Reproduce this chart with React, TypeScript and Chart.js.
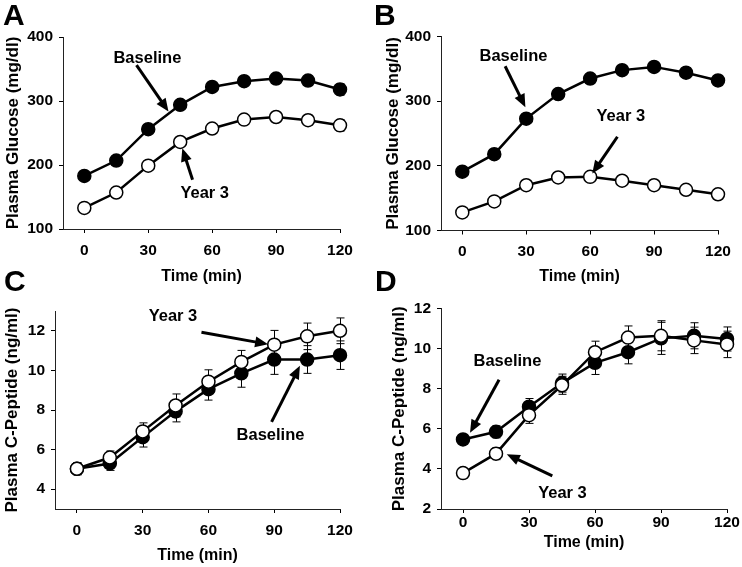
import React, { useEffect, useRef } from 'react';
import { Chart, registerables } from 'chart.js';

Chart.register(...registerables);

const W = 742;
const H = 567;
const FONT = '"Liberation Sans", Arial, Helvetica, sans-serif';

// ---------- data ----------
const TIME_MIN = [0, 15, 30, 45, 60, 75, 90, 105, 120];
const X_TICKS = [0, 30, 60, 90, 120];
const GLUCOSE_TICKS = [100, 200, 300, 400];
const CPEP_C_TICKS = [4, 6, 8, 10, 12];
const CPEP_D_TICKS = [2, 4, 6, 8, 10, 12];

// Panel A: plasma glucose
const A_BASELINE = [183, 207, 256, 294, 322, 331, 335, 332, 318];
const A_BASELINE_ERR = [5, 6, 7, 7, 7, 7, 7, 8, 9];
const A_YEAR3 = [133, 157, 199, 236, 257, 271, 275, 270, 262];
const A_YEAR3_ERR = [4, 5, 6, 6, 6, 6, 7, 8, 9];

// Panel B: plasma glucose
const B_BASELINE = [191, 218, 273, 311, 335, 348, 353, 344, 332];
const B_BASELINE_ERR = [5, 6, 7, 7, 7, 7, 7, 8, 8];
const B_YEAR3 = [128, 145, 170, 182, 183, 177, 170, 163, 156];
const B_YEAR3_ERR = [4, 5, 5, 5, 5, 5, 5, 6, 7];

// Panel C: plasma C-peptide
const C_BASELINE = [5.03, 5.3, 6.63, 7.93, 9.05, 9.85, 10.55, 10.55, 10.77];
const C_BASELINE_ERR = [0.3, 0.35, 0.5, 0.53, 0.55, 0.7, 0.75, 0.7, 0.72];
const C_YEAR3 = [5.03, 5.6, 6.92, 8.23, 9.43, 10.43, 11.3, 11.72, 12.0];
const C_YEAR3_ERR = [0.3, 0.33, 0.43, 0.58, 0.6, 0.58, 0.72, 0.67, 0.65];

// Panel D: plasma C-peptide
const D_BASELINE = [5.47, 5.85, 7.1, 8.28, 9.29, 9.82, 10.51, 10.64, 10.48];
const D_BASELINE_ERR = [0.25, 0.3, 0.41, 0.45, 0.58, 0.58, 0.8, 0.65, 0.6];
const D_YEAR3 = [3.79, 4.76, 6.68, 8.17, 9.82, 10.55, 10.64, 10.41, 10.21];
const D_YEAR3_ERR = [0.25, 0.3, 0.41, 0.45, 0.55, 0.58, 0.75, 0.66, 0.66];

// Annotations: [label, textX, textY, arrowFromX, arrowFromY, arrowToX, arrowToY] (data units)
const A_NOTES: [string, number, number, number, number, number, number][] = [
  ['Baseline', 29.6, 366.7, 24.5, 356, 39.5, 283.5],
  ['Year 3', 56.5, 156, 50.8, 177, 46, 226],
];
const B_NOTES: [string, number, number, number, number, number, number][] = [
  ['Baseline', 24, 369, 20.1, 354, 29.6, 290.7],
  ['Year 3', 74.4, 277, 72.8, 245, 61, 188],
];
const C_NOTES: [string, number, number, number, number, number, number][] = [
  ['Year 3', 43.8, 12.73, 56.8, 11.93, 87.2, 11.32],
  ['Baseline', 88.3, 6.73, 88.8, 7.4, 101.7, 10.23],
];
const D_NOTES: [string, number, number, number, number, number, number][] = [
  ['Baseline', 20.2, 9.36, 16.4, 8.45, 3.2, 5.8],
  ['Year 3', 45.2, 2.79, 40.6, 3.65, 19.9, 4.73],
];

// ---------- layout per panel (page pixels) ----------
type PanelCfg = {
  letter: string;
  letterX: number;
  letterY: number;
  area: { l: number; r: number; t: number; b: number };
  yTitleX: number;
  xTitleY: number;
  xLabelOffset: number;
  yMin: number;
  yMax: number;
  yTicks: number[];
  yTitle: string;
  baseline: number[];
  baselineErr: number[];
  year3: number[];
  year3Err: number[];
  notes: [string, number, number, number, number, number, number][];
};

const PANELS: PanelCfg[] = [
  {
    letter: 'A', letterX: 3, letterY: 25,
    area: { l: 63, r: 340, t: 37, b: 229 },
    yTitleX: 13, xTitleY: 276.5, xLabelOffset: 21.5,
    yMin: 100, yMax: 400, yTicks: GLUCOSE_TICKS, yTitle: 'Plasma Glucose (mg/dl)',
    baseline: A_BASELINE, baselineErr: A_BASELINE_ERR, year3: A_YEAR3, year3Err: A_YEAR3_ERR,
    notes: A_NOTES,
  },
  {
    letter: 'B', letterX: 374, letterY: 25,
    area: { l: 441, r: 718, t: 36.5, b: 230.5 },
    yTitleX: 393, xTitleY: 276.5, xLabelOffset: 21,
    yMin: 100, yMax: 400, yTicks: GLUCOSE_TICKS, yTitle: 'Plasma Glucose (mg/dl)',
    baseline: B_BASELINE, baselineErr: B_BASELINE_ERR, year3: B_YEAR3, year3Err: B_YEAR3_ERR,
    notes: B_NOTES,
  },
  {
    letter: 'C', letterX: 4, letterY: 291,
    area: { l: 55, r: 340, t: 311, b: 509 },
    yTitleX: 12, xTitleY: 556, xLabelOffset: 22,
    yMin: 3, yMax: 13, yTicks: CPEP_C_TICKS, yTitle: 'Plasma C-Peptide (ng/ml)',
    baseline: C_BASELINE, baselineErr: C_BASELINE_ERR, year3: C_YEAR3, year3Err: C_YEAR3_ERR,
    notes: C_NOTES,
  },
  {
    letter: 'D', letterX: 375, letterY: 291,
    area: { l: 441, r: 727, t: 308.5, b: 509 },
    yTitleX: 399, xTitleY: 543, xLabelOffset: 14,
    yMin: 2, yMax: 12, yTicks: CPEP_D_TICKS, yTitle: 'Plasma C-Peptide (ng/ml)',
    baseline: D_BASELINE, baselineErr: D_BASELINE_ERR, year3: D_YEAR3, year3Err: D_YEAR3_ERR,
    notes: D_NOTES,
  },
];

const TICK_FONT = 15.5;
const XTITLE_FONT = 16;
const YTITLE_FONT = 17;
const NOTE_FONT = 16.5;
const TICK_LEN = 4;

const errorBarPlugin = {
  id: 'errbars',
  beforeDatasetsDraw(chart: any) {
    const { ctx } = chart;
    const xs = chart.scales.x;
    const ys = chart.scales.y;
    ctx.save();
    ctx.strokeStyle = '#000';
    ctx.lineWidth = 1;
    chart.data.datasets.forEach((ds: any) => {
      ds.data.forEach((p: any, i: number) => {
        const e = ds.errors[i];
        const x = Math.round(xs.getPixelForValue(p.x)) + 0.5;
        const y0 = ys.getPixelForValue(p.y - e);
        const y1 = ys.getPixelForValue(p.y + e);
        ctx.beginPath();
        ctx.moveTo(x, y0);
        ctx.lineTo(x, y1);
        ctx.moveTo(x - 4, y0);
        ctx.lineTo(x + 4, y0);
        ctx.moveTo(x - 4, y1);
        ctx.lineTo(x + 4, y1);
        ctx.stroke();
      });
    });
    ctx.restore();
  },
};

function drawArrow(ctx: CanvasRenderingContext2D, x0: number, y0: number, x1: number, y1: number) {
  const ang = Math.atan2(y1 - y0, x1 - x0);
  const headLen = 13;
  const headW = 5.5;
  const c = Math.cos(ang);
  const s = Math.sin(ang);
  const bx = x1 - headLen * c;
  const by = y1 - headLen * s;
  ctx.lineWidth = 3;
  ctx.beginPath();
  ctx.moveTo(x0, y0);
  ctx.lineTo(bx + c, by + s);
  ctx.stroke();
  ctx.beginPath();
  ctx.moveTo(x1, y1);
  ctx.lineTo(bx + headW * s, by - headW * c);
  ctx.lineTo(bx - headW * s, by + headW * c);
  ctx.closePath();
  ctx.fill();
}

const notesPlugin = {
  id: 'notes',
  afterDraw(chart: any, _args: any, opts: any) {
    const { ctx } = chart;
    const xs = chart.scales.x;
    const ys = chart.scales.y;
    const cfg: PanelCfg = opts.cfg;
    ctx.save();
    ctx.fillStyle = '#000';
    ctx.strokeStyle = '#000';
    ctx.font = `bold 30px ${FONT}`;
    ctx.textAlign = 'left';
    ctx.textBaseline = 'alphabetic';
    ctx.fillText(cfg.letter, cfg.letterX, cfg.letterY);
    ctx.font = `bold ${NOTE_FONT}px ${FONT}`;
    ctx.textAlign = 'center';
    ctx.textBaseline = 'middle';
    cfg.notes.forEach(([label, tx, ty, ax0, ay0, ax1, ay1]) => {
      ctx.fillText(label, xs.getPixelForValue(tx), ys.getPixelForValue(ty));
      drawArrow(
        ctx,
        xs.getPixelForValue(ax0),
        ys.getPixelForValue(ay0),
        xs.getPixelForValue(ax1),
        ys.getPixelForValue(ay1)
      );
    });
    ctx.restore();
  },
};

function Panel({ cfg }: { cfg: PanelCfg }) {
  const ref = useRef<HTMLCanvasElement>(null);
  useEffect(() => {
    const yTitleLH = YTITLE_FONT * 1.2;
    const xTitleLH = XTITLE_FONT * 1.2;
    const padLeft = cfg.yTitleX - yTitleLH / 2;
    const yAxisW = cfg.area.l - padLeft;
    const xAxisH = cfg.xTitleY + xTitleLH / 2 - cfg.area.b;
    const padBottom = H - (cfg.area.b + xAxisH);
    const tickLH = TICK_FONT * 1.2;
    const xTickPad = cfg.xLabelOffset - TICK_LEN - tickLH / 2;

    const mk = (vals: number[]) => TIME_MIN.map((t, i) => ({ x: t, y: vals[i] }));
    const common = {
      borderColor: '#000',
      borderWidth: 2.5,
      pointRadius: 6.5,
      pointBorderWidth: 1.5,
      pointBorderColor: '#000',
      tension: 0,
      fill: false,
      clip: false,
    };

    const chart = new Chart(ref.current as HTMLCanvasElement, {
      type: 'line',
      data: {
        datasets: [
          { ...common, label: 'Year 3', data: mk(cfg.year3), errors: cfg.year3Err, pointBackgroundColor: '#fff' } as any,
          { ...common, label: 'Baseline', data: mk(cfg.baseline), errors: cfg.baselineErr, pointBackgroundColor: '#000' } as any,
        ],
      },
      options: {
        responsive: false,
        animation: false,
        devicePixelRatio: 1,
        events: [],
        layout: {
          padding: { left: padLeft, top: cfg.area.t, right: W - cfg.area.r, bottom: padBottom },
        },
        plugins: {
          legend: { display: false },
          tooltip: { enabled: false },
          notes: { cfg },
        } as any,
        scales: {
          x: {
            type: 'linear',
            min: -10,
            max: 120,
            afterBuildTicks: (s: any) => {
              s.ticks = X_TICKS.map((v) => ({ value: v }));
            },
            afterFit: (s: any) => {
              s.height = xAxisH;
            },
            grid: { display: true, drawOnChartArea: false, drawTicks: true, tickLength: TICK_LEN, color: '#000', lineWidth: 1 },
            border: { display: true, color: '#222', width: 1 },
            ticks: {
              font: { family: FONT, size: TICK_FONT, weight: 'bold' },
              color: '#000',
              padding: xTickPad,
              maxRotation: 0,
              autoSkip: false,
            },
            title: {
              display: true,
              text: 'Time (min)',
              font: { family: FONT, size: XTITLE_FONT, weight: 'bold' },
              color: '#000',
              padding: 0,
            },
          },
          y: {
            type: 'linear',
            min: cfg.yMin,
            max: cfg.yMax,
            afterBuildTicks: (s: any) => {
              s.ticks = cfg.yTicks.map((v) => ({ value: v }));
            },
            afterFit: (s: any) => {
              s.width = yAxisW;
            },
            grid: { display: true, drawOnChartArea: false, drawTicks: true, tickLength: TICK_LEN, color: '#000', lineWidth: 1 },
            border: { display: true, color: '#222', width: 1 },
            ticks: {
              font: { family: FONT, size: TICK_FONT, weight: 'bold' },
              color: '#000',
              padding: 6,
              autoSkip: false,
            },
            title: {
              display: true,
              text: cfg.yTitle,
              font: { family: FONT, size: YTITLE_FONT, weight: 'bold' },
              color: '#000',
              padding: 0,
            },
          },
        },
      } as any,
      plugins: [errorBarPlugin, notesPlugin],
    });
    return () => chart.destroy();
  }, [cfg]);

  return (
    <canvas
      ref={ref}
      width={W}
      height={H}
      style={{ position: 'absolute', left: 0, top: 0, width: W, height: H }}
    />
  );
}

export default function App() {
  return (
    <div style={{ position: 'absolute', left: 0, top: 0, width: W, height: H, background: '#fff', overflow: 'hidden' }}>
      {PANELS.map((p) => (
        <Panel key={p.letter} cfg={p} />
      ))}
    </div>
  );
}
